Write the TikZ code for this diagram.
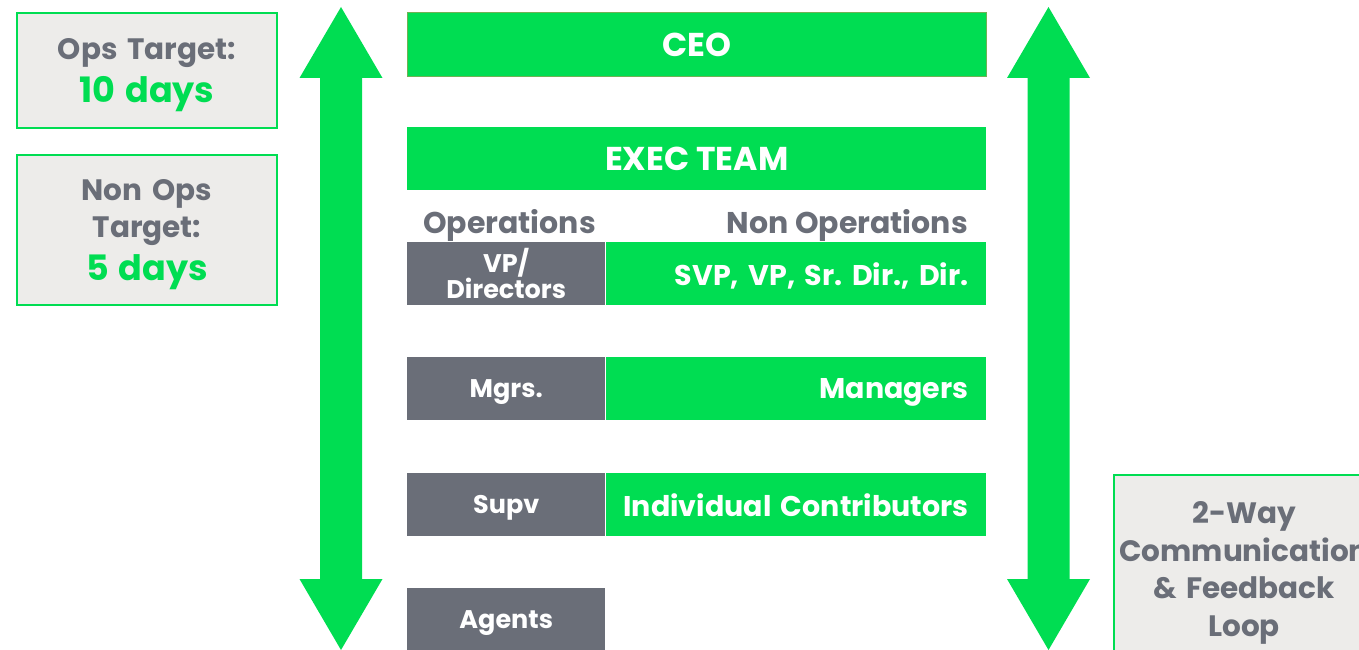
\documentclass[tikz,border=0pt]{standalone}
\usepackage{fontspec}
\setmainfont{Poppins}
\usetikzlibrary{positioning}
\definecolor{colGreen}{RGB}{0,221,82}
\definecolor{colSlate}{RGB}{106,110,120}
\definecolor{colPanel}{RGB}{237,236,234}
\definecolor{colEdge}{RGB}{112,178,84}

\begin{document}
\begin{tikzpicture}[
  x=1pt, y=-1pt,
  oneline/.style={text depth=0pt},
  bar/.style={fill=colGreen, text=white, font=\fontsize{33}{34}\selectfont\bfseries,
              minimum width=579pt, minimum height=64pt, inner sep=0pt,
              anchor=north west},
  opscell/.style={fill=colSlate, text=white, font=\fontsize{25.5}{23}\selectfont\bfseries,
                  minimum width=198pt, minimum height=63pt, inner sep=0pt,
                  anchor=north west, align=center},
  nonopscell/.style={fill=colGreen, text=white, font=\fontsize{28.5}{30}\selectfont\bfseries,
                     minimum height=63pt, text width=346pt, inner xsep=17pt,
                     inner ysep=0pt, align=right, oneline},
  header/.style={text=colSlate, font=\fontsize{30}{30}\selectfont\bfseries, inner sep=0pt},
  infobox/.style={fill=colPanel, draw=colGreen, line width=2pt, text=colSlate,
                  font=\fontsize{29.5}{37.5}\selectfont\bfseries, align=center,
                  anchor=north west, minimum width=260pt, text width=250pt,
                  inner sep=0pt, text height=30pt}
]
\useasboundingbox (0,0) rectangle (1359,650);

% ---------- two-way arrows ----------
\foreach \ax in {341, 1048.5} {
  \fill[colGreen] (\ax,7) -- (\ax+41.5,78) -- (\ax+21,78) -- (\ax+21,579)
    -- (\ax+41.5,579) -- (\ax,650) -- (\ax-41.5,579) -- (\ax-21,579)
    -- (\ax-21,78) -- (\ax-41.5,78) -- cycle;
}

% ---------- targets ----------
\node[infobox, minimum height=115pt] (ops) at (16,12)
  {Ops Target:\\[5pt]{\color{colGreen}\fontsize{35}{40}\selectfont 10 days}};
\node[infobox, minimum height=150pt] (nonops) at (16,154)
  {Non Ops\\Target:\\[5pt]{\color{colGreen}\fontsize{35}{40}\selectfont 5 days}};

% ---------- top of the chart ----------
\node[bar, draw=colEdge, line width=1pt] (ceo) at (407,12) {CEO};
\node[bar, minimum height=63pt] (exec) at (407,127) {EXEC TEAM};

\node[header] (opshead) at (509.5,225) {Operations};
\node[header, anchor=east] (nonopshead) at (968,225) {Non Operations};

% ---------- levels ----------
\node[opscell] (vp) at (407,242) {VP/\\Directors};
\node[nonopscell, right=0pt of vp] (svp) {SVP, VP, Sr.\ Dir., Dir.};

\node[opscell, oneline] (mgrs) at (407,357) {Mgrs.};
\node[nonopscell, right=0pt of mgrs] (managers) {Managers};

\node[opscell, oneline] (supv) at (407,473) {Supv};
\node[nonopscell, right=0pt of supv] (ic) {Individual Contributors};

\node[opscell, oneline] (agents) at (407,588) {Agents};

% ---------- feedback note ----------
\node[infobox, minimum height=188pt] (loop) at (1113,474)
  {2-Way\\Communication\\\& Feedback\\Loop};

\end{tikzpicture}
\end{document}
